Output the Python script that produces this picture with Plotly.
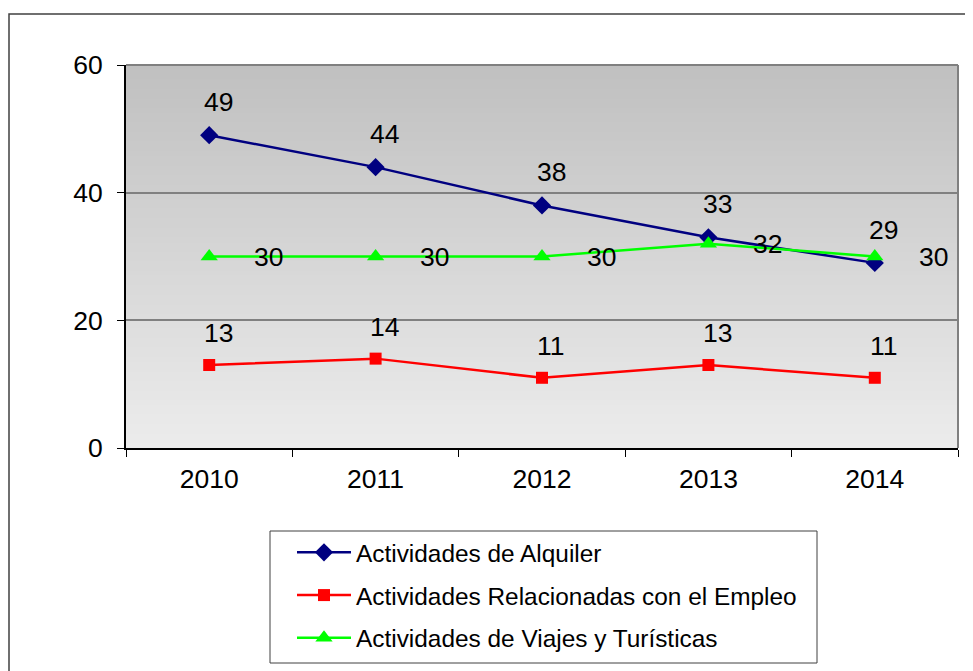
import plotly.graph_objects as go

years = ["2010", "2011", "2012", "2013", "2014"]
alquiler = [49, 44, 38, 33, 29]
empleo = [13, 14, 11, 13, 11]
viajes = [30, 30, 30, 32, 30]
names = ["Actividades de Alquiler",
         "Actividades Relacionadas con el Empleo",
         "Actividades de Viajes y Turísticas"]
yticks = [0, 20, 40, 60]

FONT = "Liberation Sans, Arial, sans-serif"
NUMSIZE = 26.5

fig = go.Figure()
fig.add_trace(go.Scatter(x=years, y=alquiler, name=names[0], mode="lines+markers",
                         line=dict(color="#000080", width=2.5),
                         marker=dict(symbol="diamond", size=14, color="#000080"),
                         legendgroup="a"))
fig.add_trace(go.Scatter(x=years, y=empleo, name=names[1], mode="lines+markers",
                         line=dict(color="#ff0000", width=2.5),
                         marker=dict(symbol="square", size=12, color="#ff0000"),
                         legendgroup="b"))
fig.add_trace(go.Scatter(x=years, y=viajes, name=names[2], mode="lines+markers",
                         line=dict(color="#00ff00", width=2.5),
                         marker=dict(symbol="triangle-up", size=15, color="#00ff00"),
                         legendgroup="c"))

ann = []
for i, v in enumerate(alquiler):
    ann.append(dict(x=i, y=v, xref="x", yref="y", text=str(v), showarrow=False,
                    yshift=33, xshift=9,
                    font=dict(size=NUMSIZE, color="black", family=FONT)))
for i, v in enumerate(empleo):
    ann.append(dict(x=i, y=v, xref="x", yref="y", text=str(v), showarrow=False,
                    yshift=32, xshift=9,
                    font=dict(size=NUMSIZE, color="black", family=FONT)))
for i, v in enumerate(viajes):
    ann.append(dict(x=i, y=v, xref="x", yref="y", text=str(v), showarrow=False,
                    xshift=59,
                    font=dict(size=NUMSIZE, color="black", family=FONT)))

# page geometry (figure is offset 8px by the body margin)
OFF = 8
W, H = 973 - OFF, 671 - OFF
L, R, T, B = 126 - OFF, 15, 65 - OFF, 671 - 448
pw, ph = W - L - R, H - T - B
def px(x): return (x - OFF - L) / pw
def py(y): return (H - B - (y - OFF)) / ph

# gradient background of plot area
shapes = []
N = 80
top = (192, 192, 192)
bot = (236, 236, 236)
for i in range(N):
    t = i / (N - 1)
    c = tuple(round(top[k] + (bot[k] - top[k]) * t) for k in range(3))
    shapes.append(dict(type="rect", xref="paper", yref="paper",
                       x0=0, x1=1, y1=1 - i / N, y0=0,
                       fillcolor="rgb(%d,%d,%d)" % c, line=dict(width=0),
                       layer="below"))
# plot frame (top/right gray)
shapes.append(dict(type="line", xref="paper", yref="paper", x0=0, x1=1, y0=1, y1=1,
                   line=dict(color="#808080", width=2), layer="above"))
shapes.append(dict(type="line", xref="paper", yref="paper", x0=1, x1=1, y0=0, y1=1,
                   line=dict(color="#808080", width=2), layer="above"))
# outer chart border
shapes.append(dict(type="rect", xref="paper", yref="paper",
                   x0=px(9), x1=px(971.5), y0=py(690), y1=py(14),
                   line=dict(color="#404040", width=1.5), layer="above"))
# legend box
shapes.append(dict(type="rect", xref="paper", yref="paper",
                   x0=px(270), x1=px(817), y0=py(663), y1=py(531),
                   line=dict(color="#404040", width=1), fillcolor="white",
                   layer="above"))

fig.update_layout(
    width=W, height=H,
    margin=dict(l=L, r=R, t=T, b=B, autoexpand=False),
    paper_bgcolor="white",
    plot_bgcolor="rgba(0,0,0,0)",
    font=dict(family=FONT, size=NUMSIZE, color="black"),
    shapes=shapes,
    annotations=ann,
    showlegend=True,
    legend=dict(x=px(292), y=py(530), xanchor="left", yanchor="top",
                borderwidth=0, bgcolor="rgba(0,0,0,0)",
                font=dict(size=24.4, family=FONT, color="black"),
                tracegroupgap=8, itemwidth=54),
    xaxis=dict(type="category", range=[-0.5, 4.5], showgrid=False,
               showline=True, linecolor="black", linewidth=2,
               ticks="outside", tickson="boundaries", ticklen=7,
               tickcolor="black", tickwidth=1, ticklabelstandoff=6,
               tickfont=dict(size=NUMSIZE)),
    yaxis=dict(range=[0, 60], tickvals=yticks, showgrid=True,
               gridcolor="#808080", gridwidth=1.5,
               showline=True, linecolor="black", linewidth=2,
               ticks="outside", ticklen=7, tickcolor="black", tickwidth=1,
               ticklabelstandoff=9, zeroline=False,
               tickfont=dict(size=NUMSIZE)),
)

fig.write_html("out.html", post_script="document.body.style.overflow='hidden';")
